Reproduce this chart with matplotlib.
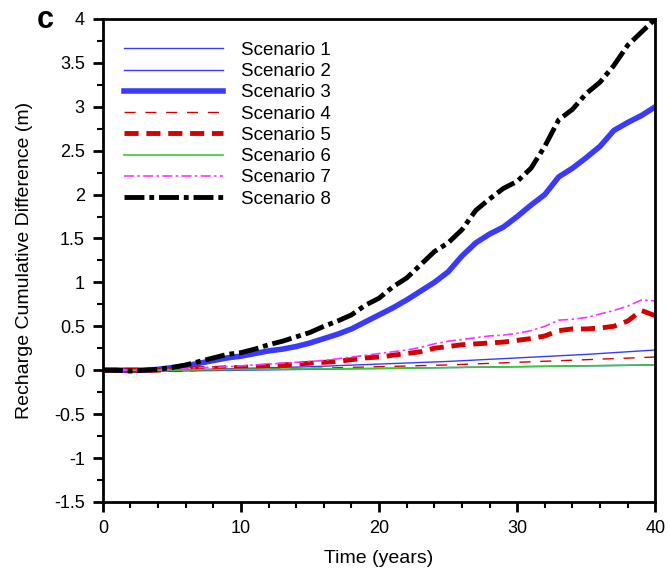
import numpy as np
import matplotlib.pyplot as plt
from matplotlib.ticker import MultipleLocator

plt.rcParams['font.family'] = ['Liberation Sans', 'DejaVu Sans']

# yearly values
years = np.arange(0, 41)
s3 = [0, 0, 0, 0, 0.01, 0.03, 0.05, 0.08, 0.11, 0.14, 0.16, 0.19, 0.22, 0.24, 0.27,
      0.31, 0.36, 0.41, 0.47, 0.55, 0.63, 0.71, 0.8, 0.9, 1.0, 1.12, 1.3, 1.45, 1.55,
      1.63, 1.75, 1.88, 2.0, 2.2, 2.3, 2.42, 2.55, 2.73, 2.82, 2.9, 3.0]
s8 = [0, 0, -0.01, 0, 0.01, 0.03, 0.06, 0.1, 0.14, 0.18, 0.2, 0.24, 0.29, 0.33, 0.38,
      0.43, 0.5, 0.56, 0.63, 0.74, 0.82, 0.95, 1.05, 1.2, 1.35, 1.45, 1.6, 1.82, 1.95,
      2.07, 2.15, 2.3, 2.55, 2.85, 2.97, 3.15, 3.28, 3.47, 3.7, 3.85, 4.0]
s7 = [0, 0, 0, 0, 0, 0.01, 0.02, 0.03, 0.03, 0.04, 0.05, 0.06, 0.07, 0.08, 0.09,
      0.1, 0.11, 0.13, 0.15, 0.17, 0.19, 0.21, 0.23, 0.26, 0.3, 0.33, 0.35, 0.37, 0.39,
      0.4, 0.42, 0.45, 0.5, 0.57, 0.58, 0.6, 0.64, 0.68, 0.73, 0.8, 0.79]
s5 = [0, 0, 0, 0, 0, 0.01, 0.01, 0.02, 0.02, 0.03, 0.03, 0.04, 0.05, 0.06, 0.07,
      0.08, 0.09, 0.1, 0.12, 0.14, 0.15, 0.17, 0.19, 0.21, 0.25, 0.27, 0.29, 0.3, 0.31,
      0.32, 0.34, 0.36, 0.39, 0.45, 0.47, 0.47, 0.48, 0.5, 0.56, 0.68, 0.62]

years5 = [0, 5, 10, 15, 20, 25, 30, 35, 40]
s1 = [0, 0.0, 0.02, 0.04, 0.07, 0.1, 0.14, 0.18, 0.23]
s2 = [0, -0.01, 0.0, 0.01, 0.02, 0.03, 0.04, 0.05, 0.06]
s4 = [0, 0.0, 0.01, 0.02, 0.04, 0.06, 0.09, 0.12, 0.15]
s6 = [0, 0.0, 0.01, 0.015, 0.02, 0.03, 0.04, 0.05, 0.06]

blue = '#3a3aff'
red = '#d40000'
green = '#33cc33'
magenta = '#ff33ff'

fig = plt.figure(figsize=(6.68, 5.73), dpi=100)
ax = fig.add_axes([0.154, 0.124, 0.827, 0.843])

ax.plot(years5, s1, color=blue, lw=1.0, label='Scenario 1')
ax.plot(years5, s2, color=blue, lw=1.0, label='Scenario 2')
ax.plot(years, s3, color=blue, lw=4.0, label='Scenario 3')
ax.plot(years5, s4, color=red, lw=1.0, dashes=(8, 7), label='Scenario 4')
ax.plot(years, s5, color=red, lw=3.5, dashes=(2.9, 1.6), label='Scenario 5')
ax.plot(years5, s6, color=green, lw=1.2, label='Scenario 6')
ax.plot(years, s7, color=magenta, lw=1.2, dashes=(6, 2, 1.5, 2), label='Scenario 7')
ax.plot(years, s8, color='black', lw=3.5, dashes=(4.1, 1.0, 1.0, 1.0), label='Scenario 8')

ax.set_xlim(0, 40)
ax.set_ylim(-1.5, 4)
ax.xaxis.set_major_locator(MultipleLocator(10))
ax.xaxis.set_minor_locator(MultipleLocator(2))
ax.yaxis.set_major_locator(MultipleLocator(0.5))
ax.yaxis.set_minor_locator(MultipleLocator(0.25))
ax.yaxis.set_major_formatter(plt.FuncFormatter(lambda v, p: f'{v:g}'))
ax.tick_params(which='major', direction='out', length=7, width=2, labelsize=13, pad=6)
ax.tick_params(which='minor', direction='out', length=4, width=1.5)
for sp in ax.spines.values():
    sp.set_linewidth(2)

ax.set_xlabel('Time (years)', fontsize=14, labelpad=9)
ax.set_ylabel('Recharge Cumulative Difference (m)', fontsize=14, labelpad=15)

ax.legend(loc='upper left', bbox_to_anchor=(0.014, 0.98), frameon=False, fontsize=13.5,
          handlelength=5.3, handletextpad=0.95, labelspacing=0.22, borderaxespad=0.3)

fig.text(0.055, 0.951, 'c', fontsize=22, fontweight='bold', va='baseline', ha='left')

fig.savefig('out.png', dpi=100)
